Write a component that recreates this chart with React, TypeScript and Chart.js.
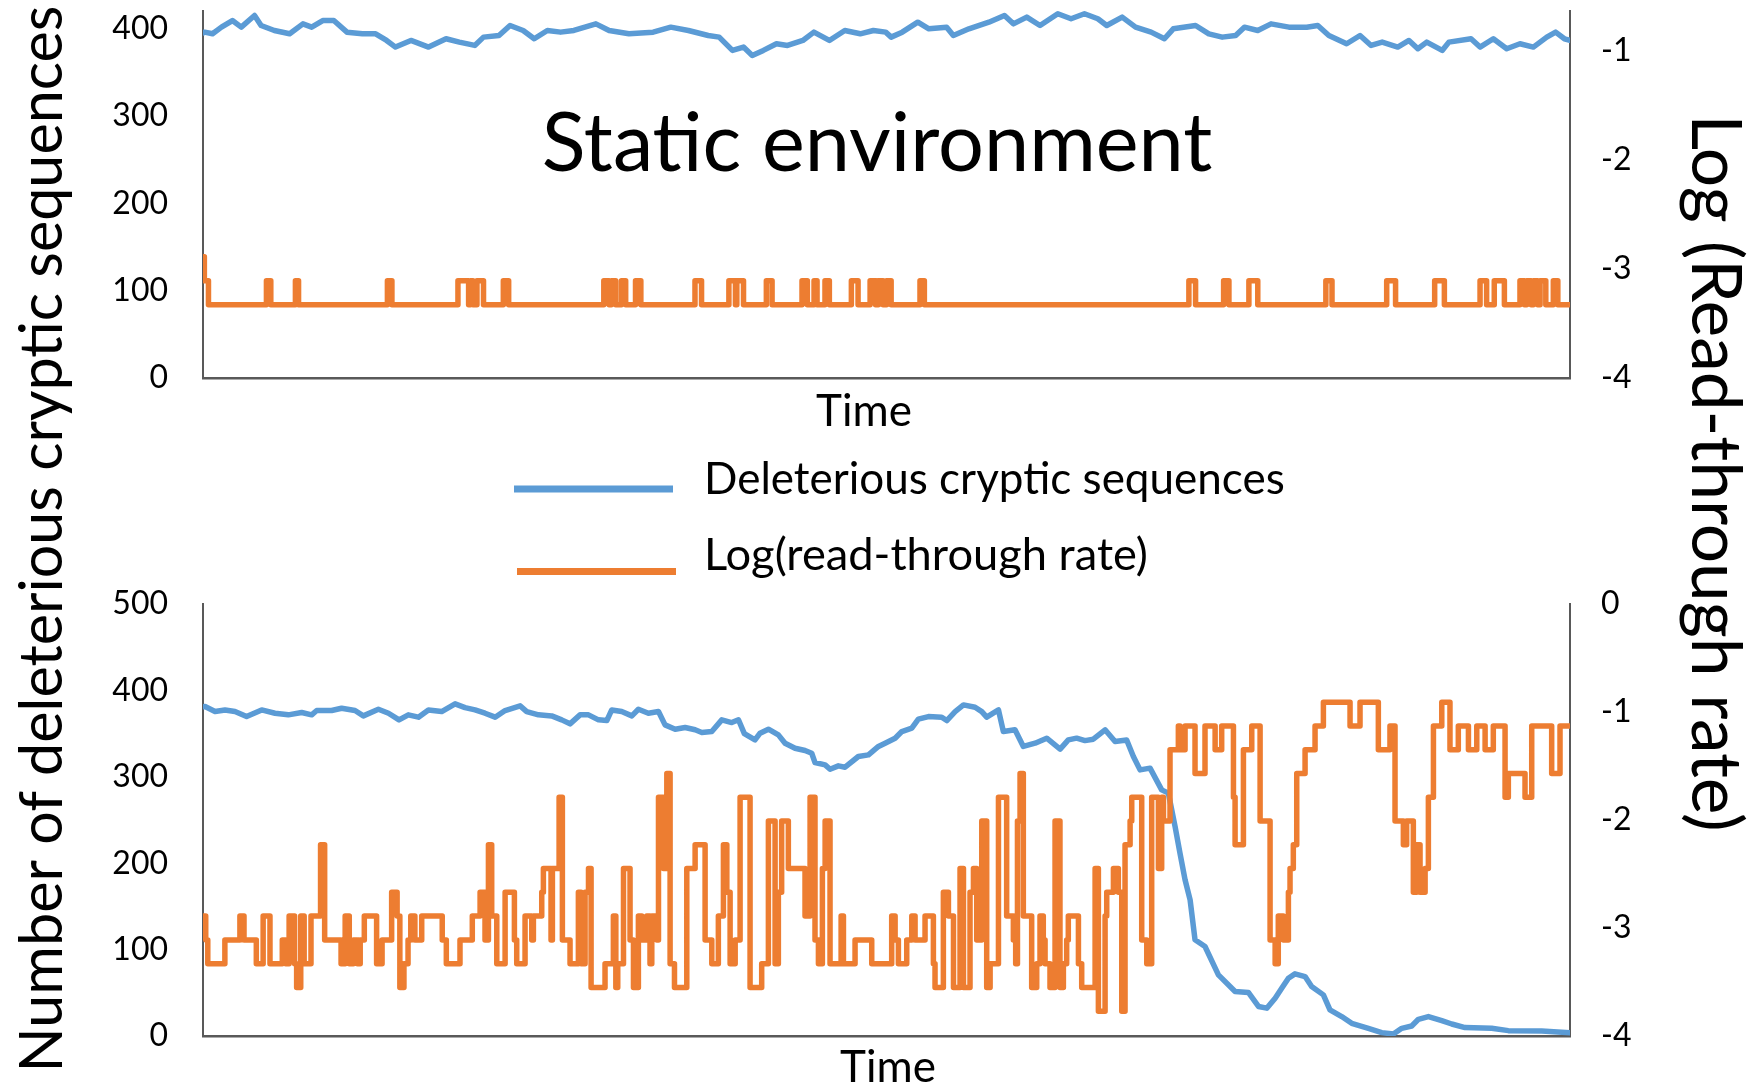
import React, { useEffect, useRef } from 'react';
import { Chart, registerables } from 'chart.js';

Chart.register(...registerables);
Chart.defaults.font.family = 'Lato';

// ---------- Labels ----------
const leftAxisTitle = 'Number of deleterious cryptic sequences';
const rightAxisTitle = 'Log (Read-through rate)';
const xAxisTitle = 'Time';
const topPanelLabel = 'Static environment';
const seriesNames = ['Deleterious cryptic sequences', 'Log(read-through rate)'];

// ---------- Top panel (static environment) ----------
const blueTopT = [0, 1.2, 7, 13.5, 21.5, 28, 37.7, 42.5, 52.2, 63.4, 73.1, 79.5, 87.6, 95.7, 105.3, 116.6, 126.3, 134.3, 140.8, 152.1, 165, 177.8, 187.5, 198.8, 205.2, 216.5, 224.6, 234.2, 242.3, 251.9, 261.6, 271.3, 287.4, 297.1, 311.6, 329.3, 342.2, 355.1, 369.6, 377.6, 387.3, 395.4, 401.8, 409.9, 419.5, 427.6, 438.8, 446.9, 458.2, 469.5, 480.8, 490.4, 499.4, 503.4, 511.5, 522.9, 531, 544, 548.9, 560.3, 574.9, 586.3, 592.8, 602.6, 612.3, 625.3, 635, 644.8, 654.6, 661.1, 672.4, 682.2, 693.6, 703.3, 709.8, 726.1, 735.8, 745.6, 755.4, 761.8, 771.6, 781.3, 794.4, 807.4, 815.5, 823.6, 836.6, 846.4, 854.5, 862.6, 874, 882.2, 888.7, 895.2, 906.5, 911.4, 927.6, 934.2, 943.9, 953.7, 963.4, 973.2, 983, 989.5, 995.9, 1000];
const blueTopV = [395, 395.8, 393.9, 401.5, 409.1, 401.5, 414.9, 403.4, 397.7, 393.9, 405.3, 401.5, 409.1, 409.1, 395.8, 393.9, 393.9, 386.3, 378.7, 386.3, 378.7, 388.2, 384.4, 380.6, 390.1, 392, 403.4, 397.7, 388.2, 397.7, 395.8, 397.7, 405.3, 397.7, 393.9, 395.8, 401.5, 397.7, 392, 390.1, 374.9, 378.7, 369.1, 374.9, 382.5, 380.6, 386.3, 395.8, 386.3, 397.7, 393.9, 397.7, 395.8, 390.1, 395.8, 407.2, 399.6, 401.5, 392, 399.6, 407.2, 414.9, 405.3, 413, 403.4, 416.8, 411.1, 416.8, 411.1, 403.4, 413, 401.5, 395.8, 388.2, 399.6, 403.4, 393.9, 390.1, 392, 401.5, 397.7, 405.3, 401.5, 401.5, 403.4, 392, 382.5, 392, 380.6, 384.4, 378.7, 386.3, 376.8, 384.4, 374.9, 384.4, 388.2, 378.7, 388.2, 376.8, 382.5, 378.7, 390.1, 395.8, 388.2, 386.3];

const orangeTopT = [0, 1, 4, 46.4, 49.6, 67.6, 69.9, 134.9, 138.2, 186.5, 194.3, 195.6, 197.5, 200.4, 205.2, 219.7, 223.6, 293.2, 297.1, 298.7, 301.9, 306.1, 309.2, 316.4, 320.3, 359.9, 364.7, 384.7, 389.5, 390.5, 395.4, 412.1, 416.3, 438.2, 442.1, 447, 449.2, 455, 458.2, 474.3, 479.2, 488, 492, 494, 497.5, 500, 503.4, 524.5, 527.7, 721.2, 726.1, 746.6, 750.5, 765.1, 771.6, 821.4, 825.9, 865.9, 872.4, 901, 908.1, 934.2, 939, 944.6, 952, 963.4, 966.7, 968.3, 971.6, 973.2, 976.4, 978.1, 982.3, 987.8, 991.1, 1000];
const orangeTopV = [-2.89, -3.11, -3.33,
  -3.11, -3.33, -3.11, -3.33, -3.11, -3.33, -3.11, -3.33, -3.11, -3.33,
  -3.11, -3.33, -3.11, -3.33, -3.11, -3.33, -3.11, -3.33, -3.11, -3.33,
  -3.11, -3.33, -3.11, -3.33, -3.11, -3.33, -3.11, -3.33, -3.11, -3.33,
  -3.11, -3.33, -3.11, -3.33, -3.11, -3.33, -3.11, -3.33, -3.11, -3.33,
  -3.11, -3.33, -3.11, -3.33, -3.11, -3.33, -3.11, -3.33, -3.11, -3.33,
  -3.11, -3.33, -3.11, -3.33, -3.11, -3.33, -3.11, -3.33, -3.11, -3.33,
  -3.11, -3.33, -3.11, -3.33, -3.11, -3.33, -3.11, -3.33, -3.11, -3.33,
  -3.11, -3.33,
  -3.33];

// ---------- Bottom panel ----------
const blueBottomT = [0, 1.5, 8.8, 16.1, 23.4, 31.9, 42.9, 52.7, 62.4, 72.2, 79.5, 83.2, 94.1, 101.4, 111.2, 117.3, 128.3, 135.7, 143.4, 150.2, 157.6, 164.9, 174.6, 184.4, 191.7, 199, 206.3, 213.7, 221, 232, 236.8, 245.4, 255.1, 262.4, 268.5, 275.8, 282, 289.3, 295.4, 299, 306.3, 313.7, 318.5, 325.8, 333.2, 338, 345.4, 352.7, 360, 364.9, 372.2, 379.5, 386.8, 391.7, 396, 403.8, 407.5, 413.6, 420.9, 425.8, 433.1, 440.4, 445.3, 447.7, 455.1, 458.7, 464.8, 469.7, 479.4, 486.8, 494.1, 499, 506.3, 511.2, 518.5, 523.3, 530.7, 540.4, 544.1, 550.2, 556.3, 564.8, 569.7, 573.3, 581.9, 585.5, 594, 600.1, 608.7, 617.2, 627, 633, 639.1, 645.2, 651.3, 659.9, 667.2, 675.7, 680.6, 685.5, 692.8, 701.3, 706.2, 711.1, 714.7, 718.4, 722.1, 725.7, 733, 742.8, 755, 764.7, 772.1, 778.2, 784.3, 789.1, 794, 798.8, 806.2, 811, 819.6, 824.4, 833, 840.3, 852.5, 862.3, 870.8, 876.9, 884.2, 889.1, 896.4, 906.2, 913.5, 923.2, 942.7, 954.9, 979.3, 1000];
const blueBottomV = [381, 381.3, 375.5, 377.4, 375.5, 369.7, 377.4, 373.6, 371.7, 374.4, 371.7, 376.7, 376.7, 379.4, 376.7, 370.5, 378.2, 373.6, 365.9, 371.7, 369, 377.4, 375.5, 384.4, 380, 377.4, 373.6, 369, 376.7, 382.1, 375.5, 371.7, 370.5, 365.9, 361.3, 371.7, 371.7, 365.9, 365.1, 377.4, 375.5, 370.5, 378.2, 373.6, 375.5, 360.1, 355.1, 357.1, 354.4, 351.3, 352.4, 365.9, 362.8, 366, 350, 342.7, 350.5, 355.1, 348.5, 338.9, 333.1, 330.4, 327.3, 316.5, 313.8, 308.8, 312.7, 311.1, 323.5, 325.4, 335.1, 338.9, 344.7, 352.4, 356.3, 366.7, 369.7, 369, 365.1, 375.5, 383.2, 380.5, 375.5, 369, 377.4, 352.4, 354.4, 335.1, 338.9, 344.7, 332, 342.7, 344.7, 341.9, 343.5, 354.4, 340.8, 342.7, 323.5, 308, 310, 284.9, 281.1, 242.5, 211.6, 180.8, 157.6, 111.3, 103.6, 70.8, 51.5, 50.4, 34.2, 32.2, 43.8, 55.3, 66.9, 71.9, 68.8, 57.2, 47.6, 30.2, 22.5, 14.7, 8.9, 3.9, 2.3, 8.9, 11.6, 19.3, 22.5, 17.8, 13.9, 9.7, 8.9, 6.2, 5.8, 3.9];

const orangeBottomT = [
  0, 2, 3.5, 16, 27, 30, 39, 44, 49, 58, 60.5, 63, 67, 68.5, 71.5, 74, 79, 86, 89, 101, 104, 107, 110, 113, 115, 118, 127, 131, 138, 142, 144, 147, 150, 152, 155, 160, 175, 178, 188, 197,
  202.7, 206.3, 208.8, 211.2, 214.9, 221, 227.8, 229.5, 235.6, 240.5, 241.7, 247.8, 249, 254.6, 255.6, 260.5, 262.9, 268.5, 274.6, 276.6, 279.5, 282, 283.9, 294.1, 300.2, 302, 303.4, 307.6, 312.4, 314.9, 318.5, 321, 324.6, 327, 328.3, 332, 333.2, 336.8, 339.3, 341.7, 344.9, 353.9, 360, 367.3, 372.2, 377, 380.7, 383.2, 385.6, 389.3,
  392.9, 400.2, 408.7, 413.6, 418.5, 420.9, 423.3, 428.2, 440.4, 444.1, 447.7, 450.2, 453.1, 455.1, 458.7, 466.8, 468.5, 477, 489.2, 503.8, 506.3, 508.7, 514.8, 518.5, 520.9, 528.2, 534.3, 535.5, 541.6, 545.3, 549, 553.8, 556.3, 561.1, 563.6, 566, 569.7, 573.3, 575.8, 581.9,
  587.9, 592.8, 594.5, 595.8, 597.7, 600.1, 606.2, 609.9, 612.3, 614.7, 616, 619.6, 623.3, 626.9, 629.4, 631.8, 633, 640.4, 642.8, 652.6, 655, 659.9, 661.1, 666, 669.6, 672.1, 674.5, 678.2, 679.4, 686.7, 690.4, 694, 698.9, 701.3, 702.6, 707.4, 713.5, 714.7, 718.4, 725.7, 733, 740.4, 745.2, 753.8, 755, 761.1, 767.2, 773.3, 780.6, 784.3,
  786.6, 790.3, 794, 795.2, 797.6, 800.1, 806.2, 813.5, 819.6, 839.1, 846.4, 859.8, 868.3, 872, 878.1, 880.5, 885.4, 887.9, 890.3, 894, 896.4, 900.1, 906.2, 912.2, 918.3, 925.7, 931.8, 937.9, 943.9, 952.5, 954.9, 967.1, 972, 986.6, 992.7, 1000];
const orangeBottomV = [
  -2.89, -3.11, -3.33, -3.11, -2.89, -3.11, -3.33, -2.89, -3.33, -3.11, -3.33, -2.89, -3.33, -3.55, -2.89, -3.33, -2.89, -2.23, -3.11, -3.33, -2.89, -3.33, -3.11, -3.33, -3.11, -2.89, -3.33, -3.11, -2.67, -2.89, -3.55, -3.33, -3.11, -2.89, -3.11, -2.89, -3.11, -3.33, -3.11, -2.89,
  -2.67, -3.11, -2.23, -2.89, -3.33, -2.67, -3.11, -3.33, -2.89, -3.11, -2.89, -2.67, -2.45, -3.11, -2.45, -1.79, -3.11, -3.33, -2.67, -3.33, -2.67, -2.45, -3.55, -3.33, -2.89, -3.55, -3.33, -2.45, -3.11, -3.55, -2.89, -3.11, -2.89, -3.33, -2.89, -3.11, -1.79, -2.45, -1.57, -3.33, -3.55, -2.45, -2.23, -3.11, -3.33, -2.89, -2.23, -2.67, -3.33, -3.11,
  -1.79, -3.55, -3.33, -2.01, -3.33, -2.67, -2.01, -2.45, -2.89, -1.79, -3.11, -3.33, -2.45, -2.01, -3.33, -2.89, -3.33, -3.11, -3.33, -2.89, -3.11, -3.33, -3.11, -2.89, -3.11, -2.89, -3.33, -3.55, -2.67, -2.89, -3.55, -2.45, -3.55, -2.67, -2.45, -3.11, -2.01, -3.55, -3.33, -1.79,
  -2.89, -3.11, -3.33, -2.01, -1.57, -2.89, -3.55, -3.33, -2.89, -3.11, -3.33, -3.55, -2.01, -3.55, -3.33, -3.11, -2.89, -3.33, -3.55, -2.45, -3.77, -2.89, -2.67, -2.45, -2.67, -3.77, -2.23, -2.01, -1.79, -3.11, -3.33, -1.79, -2.45, -1.79, -2.01, -1.35, -1.13, -1.35, -1.13, -1.57, -1.13, -1.35, -1.13, -1.79, -2.23, -1.35, -1.13, -2.01, -3.11, -3.33,
  -2.89, -3.11, -2.67, -2.45, -2.23, -1.57, -1.35, -1.13, -0.91, -1.13, -0.91, -1.35, -1.13, -2.01, -2.23, -2.01, -2.67, -2.23, -2.67, -2.45, -1.79, -1.13, -0.91, -1.35, -1.13, -1.35, -1.13, -1.35, -1.13, -1.79, -1.57, -1.79, -1.13, -1.57, -1.13, -1.13];

// ---------- Axis ranges / ticks ----------
const topLeftRange = [0, 420];
const topRightRange = [-4, -0.64];
const bottomLeftRange = [0, 500];
const bottomRightRange = [-4, 0];
const leftTickStep = 100;
const rightTickStep = 1;
const timeRange = [0, 1000];

const BLUE = '#5B9BD5';
const ORANGE = '#ED7D31';
const AXIS = '#595959';

const toPoints = (t: number[], v: number[]) => t.map((x, i) => ({ x, y: v[i] }));

type TextItem = { text: string; x: number; y: number; size: number; align?: CanvasTextAlign; rot?: number; fit?: number };
type RectItem = { x: number; y: number; w: number; h: number; color: string };

const overlayPlugin = (texts: TextItem[], rects: RectItem[]) => ({
  id: 'overlay',
  afterDraw(chart: Chart) {
    const ctx = chart.ctx;
    ctx.save();
    for (const r of rects) {
      ctx.fillStyle = r.color;
      ctx.fillRect(r.x, r.y, r.w, r.h);
    }
    for (const it of texts) {
      ctx.save();
      ctx.translate(it.x, it.y);
      if (it.rot) ctx.rotate(it.rot);
      let size = it.size;
      ctx.font = `${size}px Lato`;
      if (it.fit) {
        const w = ctx.measureText(it.text).width;
        size = size * it.fit / w;
        ctx.font = `${size}px Lato`;
      }
      ctx.fillStyle = '#000';
      ctx.textAlign = it.align ?? 'center';
      ctx.textBaseline = 'alphabetic';
      ctx.fillText(it.text, 0, 0);
      ctx.restore();
    }
    ctx.restore();
  },
});

const noPad = (s: any) => {
  s.paddingTop = 0;
  s.paddingBottom = 0;
  s.paddingLeft = 0;
  s.paddingRight = 0;
};

const makeScales = (leftRange: number[], rightRange: number[], xHeight: number) => ({
  x: {
    type: 'linear' as const,
    min: timeRange[0],
    max: timeRange[1],
    ticks: { display: false },
    grid: { display: false, drawTicks: false },
    border: { display: true, color: AXIS, width: 2.5 },
    afterFit: (s: any) => { s.height = xHeight; noPad(s); },
  },
  y: {
    type: 'linear' as const,
    position: 'left' as const,
    min: leftRange[0],
    max: leftRange[1],
    ticks: { stepSize: leftTickStep, includeBounds: false, padding: 35, color: '#000', font: { size: 32, family: 'Lato' } },
    grid: { display: false, drawTicks: false },
    border: { display: true, color: AXIS, width: 2 },
    afterFit: (s: any) => { s.width = 203; noPad(s); },
  },
  y1: {
    type: 'linear' as const,
    position: 'right' as const,
    min: rightRange[0],
    max: rightRange[1],
    ticks: { stepSize: rightTickStep, includeBounds: false, padding: 31, color: '#000', font: { size: 32, family: 'Lato' } },
    grid: { display: false, drawTicks: false },
    border: { display: true, color: AXIS, width: 2 },
    afterFit: (s: any) => { s.width = 182; noPad(s); },
  },
});

const makeDatasets = (bt: number[], bv: number[], ot: number[], ov: number[]) => [
  {
    label: seriesNames[0],
    data: toPoints(bt, bv),
    yAxisID: 'y',
    borderColor: BLUE,
    borderWidth: 5.5,
    pointRadius: 0,
    tension: 0,
    borderJoinStyle: 'round' as const,
    borderCapStyle: 'round' as const,
    order: 1,
  },
  {
    label: seriesNames[1],
    data: toPoints(ot, ov),
    yAxisID: 'y1',
    borderColor: ORANGE,
    borderWidth: 5.5,
    pointRadius: 0,
    stepped: 'before' as const,
    borderJoinStyle: 'round' as const,
    borderCapStyle: 'round' as const,
    order: 0,
  },
];

export default function App() {
  const topRef = useRef<HTMLCanvasElement>(null);
  const botRef = useRef<HTMLCanvasElement>(null);

  useEffect(() => {
    if (!topRef.current || !botRef.current) return;

    const bottom = new Chart(botRef.current, {
      type: 'line',
      data: { datasets: makeDatasets(blueBottomT, blueBottomV, orangeBottomT, orangeBottomV) as any },
      options: {
        responsive: false,
        animation: false,
        devicePixelRatio: 1,
        layout: { padding: { top: 604, left: 0, right: 0, bottom: 0 } },
        plugins: { legend: { display: false }, tooltip: { enabled: false } },
        scales: makeScales(bottomLeftRange, bottomRightRange, 48) as any,
      },
      plugins: [
        overlayPlugin(
          [
            { text: xAxisTitle, x: 888, y: 1082, size: 44 },
            { text: leftAxisTitle, x: 62, y: 539, size: 60, rot: -Math.PI / 2, fit: 1067 },
            { text: rightAxisTitle, x: 1692, y: 473, size: 64, rot: Math.PI / 2, fit: 717 },
          ],
          [],
        ),
      ],
    });

    const top = new Chart(topRef.current, {
      type: 'line',
      data: { datasets: makeDatasets(blueTopT, blueTopV, orangeTopT, orangeTopV) as any },
      options: {
        responsive: false,
        animation: false,
        devicePixelRatio: 1,
        layout: { padding: { top: 11, left: 0, right: 0, bottom: 0 } },
        plugins: { legend: { display: false }, tooltip: { enabled: false } },
        scales: makeScales(topLeftRange, topRightRange, 202) as any,
      },
      plugins: [
        overlayPlugin(
          [
            { text: topPanelLabel, x: 877, y: 171, size: 81 },
            { text: xAxisTitle, x: 864, y: 426, size: 44 },
            { text: seriesNames[0], x: 704, y: 494, size: 44, align: 'left' },
            { text: seriesNames[1], x: 704, y: 570, size: 44, align: 'left', fit: 444 },
          ],
          [
            { x: 514, y: 485.5, w: 159, h: 7, color: BLUE },
            { x: 517, y: 568, w: 159, h: 7, color: ORANGE },
          ],
        ),
      ],
    });

    return () => {
      top.destroy();
      bottom.destroy();
    };
  }, []);

  return (
    <div style={{ position: 'absolute', left: 0, top: 0, width: 1752, height: 1084, background: '#fff', overflow: 'hidden' }}>
      <canvas ref={botRef} width={1752} height={1084} style={{ position: 'absolute', left: 0, top: 0, width: 1752, height: 1084 }} />
      <canvas ref={topRef} width={1752} height={580} style={{ position: 'absolute', left: 0, top: 0, width: 1752, height: 580 }} />
    </div>
  );
}
